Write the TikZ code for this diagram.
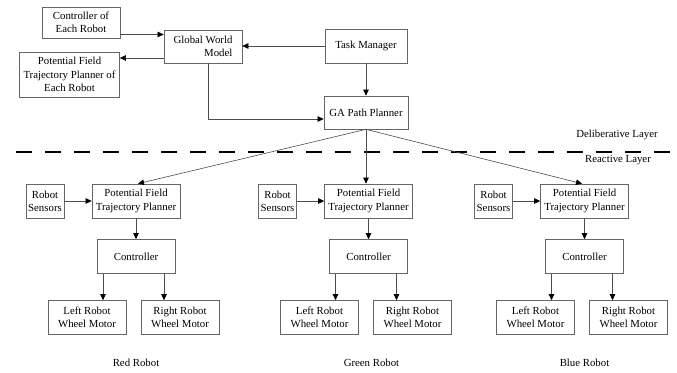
\documentclass[tikz,border=0pt]{standalone}
\usepackage{fontspec}
\setmainfont{Liberation Serif}
\usetikzlibrary{positioning, arrows.meta}
\tikzset{>={Triangle[length=6pt, width=5.5pt, color=black]},
         box/.style={draw=black!60, line width=0.7pt, align=center, inner sep=0.5pt,
                     minimum height=34pt, font=\fontsize{10.8}{13.2}\selectfont},
         link/.style={->, draw=black!70, line width=0.6pt},
         lbl/.style={font=\fontsize{10.8}{13.2}\selectfont},
         layerline/.style={line width=2.8pt, dash pattern=on 16pt off 13pt},
         }

\begin{document}
\begin{tikzpicture}[x=1pt, y=-1pt]
    \useasboundingbox (0,0) rectangle (677,372);

    \node[box, minimum width=78pt, minimum height=31pt] (ceach) at (81,22.5) {Controller of\\Each Robot};
    \node[box, minimum width=78pt, minimum height=33pt, align=right] (gwm) at (203,46.5) {Global World\\Model};
    \node[box, minimum width=100pt, minimum height=45pt] (pfeach) at (69.5,74.5) {Potential Field\\Trajectory Planner of\\Each Robot};
    \node[box, minimum width=82pt] (tm) at (366,46) {Task Manager};
    \node[box, minimum width=84pt, minimum height=33pt] (ga) at (366,112.5) {GA Path Planner};

    \draw[link] ([yshift=-12pt]ceach.east) -- ([yshift=-12pt]ceach.east -| gwm.west);
    \draw[link] ([yshift=-11.5pt]gwm.west) -- ([yshift=-11.5pt]gwm.west -| pfeach.east);
    \draw[link] (tm.west) -- (tm.west -| gwm.east);
    \draw[link] (tm) -- (ga);
    \draw[link] ([xshift=5pt]gwm.south) |- ([yshift=-6.5pt]ga.west);

    \node[lbl] (delib) at (617,135) {Deliberative Layer};
    \node[lbl] (react) at (618,160) {Reactive Layer};
    \coordinate (dl) at (16,152);
    \coordinate (dr) at (677,152);
    \draw[layerline] (dl) -- (dr);

    \node[box, minimum width=88pt] (rpf) at (136,201) {Potential Field\\Trajectory Planner};
    \node[box, minimum width=38pt, node distance=91pt, left of=rpf] (rsens) {Robot\\Sensors};
    \node[box, minimum width=78pt, node distance=55.5pt, below of=rpf] (rctl) {Controller};
    \node[box, minimum width=78pt, node distance=61pt, below of=rctl, xshift=-49pt] (rlm) {Left Robot\\Wheel Motor};
    \node[box, minimum width=78pt, node distance=61pt, below of=rctl, xshift=44pt] (rrm) {Right Robot\\Wheel Motor};
    \node[lbl, node distance=106pt, below of=rctl] (rname) {Red Robot};

    \node[box, minimum width=88pt] (gpf) at (368.5,201) {Potential Field\\Trajectory Planner};
    \node[box, minimum width=38pt, node distance=91pt, left of=gpf] (gsens) {Robot\\Sensors};
    \node[box, minimum width=78pt, node distance=55.5pt, below of=gpf] (gctl) {Controller};
    \node[box, minimum width=78pt, node distance=61pt, below of=gctl, xshift=-49pt] (glm) {Left Robot\\Wheel Motor};
    \node[box, minimum width=78pt, node distance=61pt, below of=gctl, xshift=44pt] (grm) {Right Robot\\Wheel Motor};
    \node[lbl, node distance=106pt, below of=gctl, xshift=3pt] (gname) {Green Robot};

    \node[box, minimum width=88pt] (bpf) at (584.5,201) {Potential Field\\Trajectory Planner};
    \node[box, minimum width=38pt, node distance=91pt, left of=bpf] (bsens) {Robot\\Sensors};
    \node[box, minimum width=78pt, node distance=55.5pt, below of=bpf] (bctl) {Controller};
    \node[box, minimum width=78pt, node distance=61pt, below of=bctl, xshift=-49pt] (blm) {Left Robot\\Wheel Motor};
    \node[box, minimum width=78pt, node distance=61pt, below of=bctl, xshift=44pt] (brm) {Right Robot\\Wheel Motor};
    \node[lbl, node distance=106pt, below of=bctl] (bname) {Blue Robot};

    \draw[link] (ga.south) -- ([xshift=2pt]rpf.north);
    \draw[link] (ga.south) -- (ga.south |- gpf.north);
    \draw[link] (ga.south) -- ([xshift=-2.5pt]bpf.north);

    \draw[link] (rsens) -- (rpf);
    \draw[link] (rpf) -- (rctl);
    \draw[link] ([xshift=-33pt]rctl.south) -- ([xshift=-33pt]rctl.south |- rlm.north);
    \draw[link] ([xshift=28pt]rctl.south) -- ([xshift=28pt]rctl.south |- rrm.north);

    \draw[link] (gsens) -- (gpf);
    \draw[link] (gpf) -- (gctl);
    \draw[link] ([xshift=-33pt]gctl.south) -- ([xshift=-33pt]gctl.south |- glm.north);
    \draw[link] ([xshift=28pt]gctl.south) -- ([xshift=28pt]gctl.south |- grm.north);

    \draw[link] (bsens) -- (bpf);
    \draw[link] (bpf) -- (bctl);
    \draw[link] ([xshift=-33pt]bctl.south) -- ([xshift=-33pt]bctl.south |- blm.north);
    \draw[link] ([xshift=28pt]bctl.south) -- ([xshift=28pt]bctl.south |- brm.north);
\end{tikzpicture}
\end{document}
